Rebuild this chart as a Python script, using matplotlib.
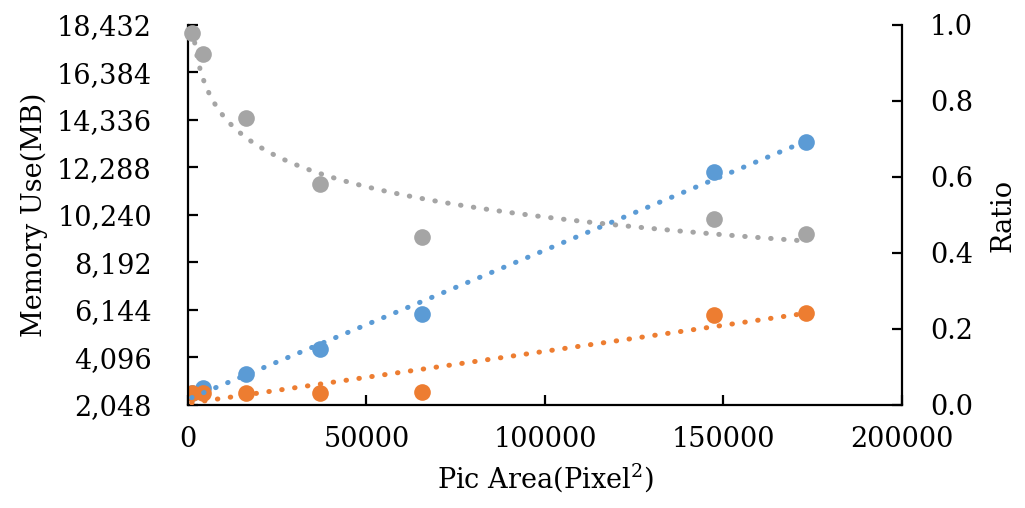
import numpy as np
import matplotlib
matplotlib.use("Agg")
import matplotlib.pyplot as plt

plt.rcParams['font.family'] = ['DejaVu Serif']
plt.rcParams['mathtext.fontset'] = 'dejavuserif'

# pic area (pixel^2)
area = [1024, 4096, 16384, 36864, 65536, 147456, 173056]
# memory use (MB)
mem_blue = [2565, 2781, 3385, 4462, 5972, 12094, 13388]
mem_orange = [2565, 2565, 2565, 2565, 2608, 5925, 6015]
# ratio
ratio = [0.979, 0.924, 0.755, 0.582, 0.442, 0.489, 0.450]

mem_ticks = [2048 * i for i in range(1, 10)]
ratio_ticks = [0.0, 0.2, 0.4, 0.6, 0.8, 1.0]

c_blue = '#5B9BD5'
c_orange = '#ED7D31'
c_gray = '#A5A5A5'
fs = 19.5
dots = (0, (0.1, 2.5))

fig = plt.figure(figsize=(10.25, 5.08), dpi=100)
ax1 = fig.add_axes([0.1834, 0.2028, 0.6966, 0.748])
ax2 = ax1.twinx()

x = np.array(area, dtype=float)
xs = np.linspace(x.min(), x.max(), 300)

ax1.plot(x, mem_blue, 'o', color=c_blue, ms=12, mec='none', zorder=2)
ax1.plot(x, mem_orange, 'o', color=c_orange, ms=12, mec='none', zorder=2)
for vals, col in ((mem_blue, c_blue), (mem_orange, c_orange)):
    k, b = np.polyfit(x, vals, 1)
    ax1.plot(xs, k * xs + b, color=col, lw=3.6, ls=dots,
             dash_capstyle='round', zorder=3)

# logarithmic trendline for ratio
lb, la = np.polyfit(np.log(x), ratio, 1)
ax2.plot(x, ratio, 'o', color=c_gray, ms=12, mec='none', zorder=2,
         clip_on=False)
ax2.plot(xs, la + lb * np.log(xs), color=c_gray, lw=3.6, ls=dots,
         dash_capstyle='round', zorder=3)

ax1.set_xlim(0, 200000)
ax1.set_ylim(2048, 18432)
ax2.set_ylim(0, 1.0)
ax1.set_xticks([0, 50000, 100000, 150000, 200000])
ax1.set_yticks(mem_ticks)
ax1.set_yticklabels([f'{v:,}' for v in mem_ticks])
ax2.set_yticks(ratio_ticks)
ax2.set_yticklabels([f'{v:.1f}' for v in ratio_ticks])

for ax in (ax1, ax2):
    ax.spines['top'].set_visible(False)
    for s in ax.spines.values():
        s.set_linewidth(1.6)
ax1.spines['right'].set_visible(False)
ax2.spines['left'].set_visible(False)
ax2.spines['bottom'].set_visible(False)

ax1.tick_params(axis='y', direction='in', length=7, width=1.6, pad=26, labelsize=fs)
ax1.tick_params(axis='x', direction='in', length=7, width=1.6, pad=15, labelsize=fs)
ax2.tick_params(axis='y', direction='in', length=7, width=1.6, pad=20, labelsize=fs)

ax1.set_xlabel('Pic Area(Pixel$^2$)', fontsize=fs, labelpad=6)
ax1.set_ylabel('Memory Use(MB)', fontsize=fs, labelpad=6)
ax2.set_ylabel('Ratio', fontsize=fs, labelpad=12)

fig.savefig('out.png', dpi=100)
